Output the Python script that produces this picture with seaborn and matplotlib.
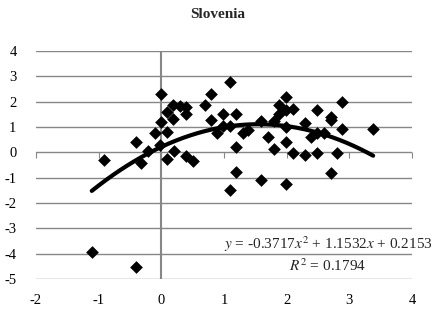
import numpy as np
import pandas as pd
import matplotlib
matplotlib.use('Agg')
import matplotlib.pyplot as plt
import seaborn as sns

# data
x_vals = [-1.11, -0.40, -0.91, -0.32, -0.40, -0.21, -0.02, 0.00, 0.09, -0.01,
          -0.10, 0.09, 0.09, 0.18, 0.29, 0.39, 0.18, 0.40, 0.20, 0.39,
          0.50, 0.69, 0.79, 0.79, 0.89, 0.98, 0.98, 1.09, 1.10, 1.19,
          1.19, 1.30, 1.38, 1.10, 1.19, 1.59, 1.70, 1.80, 1.79, 1.59,
          1.88, 1.99, 1.88, 1.99, 2.10, 1.99, 1.99, 1.99, 2.10, 2.29,
          2.29, 2.39, 2.48, 2.48, 2.48, 2.60, 2.70, 2.70, 2.70, 2.80,
          2.89, 2.89, 3.38]
y_vals = [-3.93, -4.53, -0.30, -0.43, 0.40, 0.06, 0.30, 2.29, 1.59, 1.21,
          0.78, 0.79, -0.28, 1.86, 1.82, 1.77, 1.30, 1.53, 0.06, -0.15,
          -0.33, 1.86, 2.29, 1.29, 0.78, 1.52, 1.05, 1.03, 2.77, 1.53,
          0.22, 0.78, 0.87, -1.50, -0.79, 1.24, 0.60, 0.15, 1.24, -1.09,
          1.86, 2.20, 1.53, 1.66, 1.72, 1.01, 0.41, -1.24, -0.03, 1.15,
          -0.10, 0.62, 1.66, 0.75, -0.03, 0.78, 1.41, 1.26, -0.80, -0.03,
          1.99, 0.93, 0.93]

# trendline coefficients shown on the chart
coef = [-0.3717, 1.1532, 0.2153]
r2 = 0.1794

x_ticks = [-2, -1, 0, 1, 2, 3, 4]
y_ticks = [-5, -4, -3, -2, -1, 0, 1, 2, 3, 4]

df = pd.DataFrame({'x': x_vals, 'y': y_vals})

sns.set_style('white')
plt.rcParams['font.family'] = ['Liberation Serif', 'DejaVu Serif']
plt.rcParams['mathtext.fontset'] = 'stix'
plt.rcParams['axes.unicode_minus'] = False

fig = plt.figure(figsize=(4.36, 3.10), dpi=100)
ax = fig.add_axes([36 / 436, 31 / 310, 376 / 436, 228 / 310])

grid_c = '#878787'
for yt in y_ticks:
    ax.axhline(yt, color=grid_c, lw=1.0, zorder=0)
ax.axvline(0, color=grid_c, lw=1.5, zorder=1)

sns.scatterplot(data=df, x='x', y='y', marker='D', s=42, color='black',
                edgecolor='black', linewidth=0, ax=ax, zorder=3)

xs = np.linspace(min(x_vals), max(x_vals), 200)
ax.plot(xs, np.polyval(coef, xs), color='black', lw=3.0,
        solid_capstyle='round', zorder=4)

ax.set_xlim(-2, 4)
ax.set_ylim(-5, 4)
ax.set_xticks(x_ticks)
ax.set_yticks(y_ticks)
ax.set_xlabel('')
ax.set_ylabel('')
for sp in ax.spines.values():
    sp.set_visible(False)
ax.tick_params(axis='both', length=0, labelsize=10.5, colors='black')
ax.tick_params(axis='y', pad=14)
ax.tick_params(axis='x', pad=11)

# horizontal axis line crossing at y = 0 with tick marks
sec = ax.secondary_xaxis(5 / 9)
sec.xaxis.set_ticks_position('bottom')
sec.set_xticks(x_ticks)
sec.set_xticklabels([])
sec.tick_params(axis='x', direction='out', length=4, color=grid_c)
sec.spines['bottom'].set_color(grid_c)
sec.spines['bottom'].set_linewidth(1.0)
for k in ['top', 'left', 'right']:
    sec.spines[k].set_visible(False)

ax.text(2.66, -3.63, r'$y$ = -0.3717$x^2$ + 1.1532$x$ + 0.2153',
        ha='center', va='center', fontsize=11, zorder=5)
ax.text(2.66, -4.46, r'$R^2$ = ' + f'{r2:.4f}', ha='center', va='center',
        fontsize=11, zorder=5)

fig.text(0.5, 1 - 14 / 310, 'Slovenia', ha='center', va='center',
         fontsize=11, fontweight='bold')

fig.savefig('out.png', dpi=100)
